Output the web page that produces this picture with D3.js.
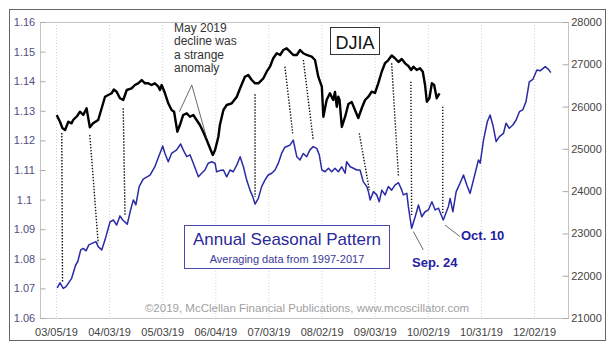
<!DOCTYPE html>
<html><head><meta charset="utf-8">
<script src="https://cdn.jsdelivr.net/npm/d3@7"></script>
<style>
html,body{margin:0;padding:0;background:#fff;}
svg{display:block;font-family:"Liberation Sans",Arial,sans-serif;}
</style></head>
<body><svg id="c" width="614" height="346"></svg>
<script>
// x axis: trading-day index from 03/05/19
const dayTicks = [0,21,42,63,84,105,126,147,168,189];
const dayLabels = ["03/05/19","04/03/19","05/03/19","06/04/19","07/03/19","08/02/19","09/03/19","10/02/19","10/31/19","12/02/19"];
const leftTicks = [1.06,1.07,1.08,1.09,1.10,1.11,1.12,1.13,1.14,1.15,1.16];
const leftTickLabels = ["1.06","1.07","1.08","1.09","1.1","1.11","1.12","1.13","1.14","1.15","1.16"];
const rightTicks = [21000,22000,23000,24000,25000,26000,27000,28000];

// Annual seasonal pattern (left axis) [day, value]
const seasonal = [
[0.5,1.0702],[1.6,1.0719],[2.9,1.0700],[4.0,1.0706],[6.2,1.0734],[7.8,1.0779],[8.6,1.0790],[9.8,1.0830],
[10.8,1.0835],[11.9,1.0827],[13.0,1.0847],[14.7,1.0854],[15.8,1.0858],[16.7,1.0841],[18.1,1.0830],[19.4,1.0864],
[21.4,1.0925],[22.7,1.0931],[24.0,1.0914],[25.3,1.0945],[26.4,1.0931],[28.2,1.0917],[29.5,1.0965],[30.6,1.0999],
[31.6,1.0982],[32.9,1.1044],[34.5,1.1069],[37.2,1.1083],[39.1,1.1111],[42.2,1.1181],[43.1,1.1156],[44.4,1.1128],
[45.7,1.1156],[47.7,1.1168],[49.3,1.1188],[50.3,1.1168],[51.7,1.1145],[53.0,1.1151],[54.3,1.1123],[56.3,1.1077],
[57.6,1.1089],[58.9,1.1100],[60.2,1.1123],[61.6,1.1128],[62.9,1.1123],[63.5,1.1094],[64.8,1.1098],[66.2,1.1100],
[67.5,1.1077],[68.8,1.1100],[70.1,1.1094],[71.5,1.1117],[72.8,1.1145],[74.1,1.1111],[75.4,1.1066],[76.7,1.1032],
[77.8,1.1010],[78.7,1.0985],[80.0,1.1004],[81.3,1.1044],[82.6,1.1066],[83.9,1.1083],[85.3,1.1089],[86.6,1.1100],
[87.9,1.1123],[89.2,1.1156],[90.5,1.1177],[91.7,1.1181],[92.5,1.1184],[93.8,1.1201],[95.2,1.1145],[96.5,1.1134],
[97.8,1.1156],[99.1,1.1145],[100.4,1.1168],[101.7,1.1179],[103.1,1.1173],[104.1,1.1151],[105.1,1.1100],[106.4,1.1094],
[107.7,1.1106],[109.0,1.1094],[110.3,1.1106],[111.6,1.1094],[113.0,1.1111],[114.3,1.1089],[114.9,1.1128],[116.3,1.1111],
[117.6,1.1106],[118.9,1.1100],[120.2,1.1100],[121.5,1.1060],[122.9,1.1044],[123.5,1.1027],[124.2,1.0999],[125.5,1.1027],
[126.8,1.1016],[127.8,1.0993],[128.8,1.1032],[130.1,1.1016],[131.4,1.1044],[132.7,1.1032],[134.0,1.1049],[135.4,1.1057],
[136.7,1.1032],[137.3,1.1016],[138.7,1.1021],[139.3,1.0976],[140.6,1.0903],[142.0,1.0942],[143.3,1.0982],[144.6,1.0942],
[145.9,1.0959],[147.2,1.0965],[148.6,1.0993],[149.9,1.0965],[151.2,1.0971],[153.1,1.0931],[155.1,1.0976],[155.8,1.1004],
[156.9,1.0959],[158.2,1.1027],[159.7,1.1055],[161.1,1.1083],[162.4,1.1049],[163.7,1.1021],[165.7,1.1089],[167.0,1.1134],
[167.7,1.1123],[169.0,1.1201],[170.5,1.1263],[171.6,1.1286],[172.7,1.1252],[174.0,1.1196],[175.3,1.1213],[176.9,1.1224],
[177.9,1.1258],[179.2,1.1241],[180.6,1.1252],[181.9,1.1269],[183.2,1.1297],[184.5,1.1303],[185.8,1.1331],[187.1,1.1398],
[188.5,1.1406],[190.1,1.1438],[191.4,1.1435],[193.4,1.1449],[194.7,1.1440],[195.6,1.1429]
];

// DJIA (right axis) [day, value]
const djia = [
[0.3,25801],[1.6,25642],[2.6,25486],[3.6,25446],[4.9,25642],[6.2,25604],[6.8,25682],[8.4,25777],[9.5,25879],
[10.8,25801],[12.1,25959],[13.4,25510],[14.7,25604],[16.7,25682],[18.1,25966],[19.4,26233],[20.7,26274],[22.0,26314],
[22.9,26404],[24.0,26352],[25.3,26196],[26.6,26155],[28.0,26392],[29.9,26432],[31.2,26510],[32.5,26550],[33.9,26628],
[35.2,26550],[36.5,26550],[37.8,26510],[39.1,26550],[40.5,26470],[41.1,26392],[41.8,26510],[43.1,26314],[44.4,26077],
[45.7,25919],[46.7,25879],[48.0,25406],[49.0,25564],[50.3,25801],[51.7,25841],[53.0,25760],[54.3,25801],[55.6,25682],
[56.9,25564],[58.2,25406],[59.6,25209],[60.9,25013],[62.0,24855],[62.9,24973],[64.2,25287],[64.8,25564],[66.2,25919],
[67.5,26037],[69.5,26077],[71.5,26233],[72.8,26432],[74.7,26706],[76.0,26747],[77.4,26628],[78.7,26550],[80.0,26550],
[82.0,26669],[83.3,26825],[84.6,26943],[85.9,27142],[87.3,27260],[88.6,27220],[89.9,27338],[91.2,27378],[92.5,27298],
[93.8,27220],[95.2,27220],[96.5,27338],[97.8,27260],[99.1,27220],[101.1,27179],[102.4,27101],[103.7,26706],[105.1,26470],
[105.7,25760],[107.0,26155],[108.3,26314],[109.6,26155],[110.3,26345],[111.0,25997],[111.6,26233],[112.1,26155],
[113.0,25517],[114.3,25760],[115.6,26061],[116.9,26108],[118.2,25919],[119.5,25730],[120.9,25966],[122.2,26155],
[123.5,26233],[124.8,26352],[126.1,26321],[127.4,26550],[128.8,26829],[130.1,27030],[131.4,27101],[132.7,27208],
[134.0,27142],[135.4,27054],[136.7,27125],[138.0,27023],[139.3,26959],[140.4,26865],[141.3,26943],[142.6,26865],
[143.9,26905],[145.0,26825],[145.9,26510],[146.6,26115],[147.6,26196],[148.6,26550],[149.5,26510],[150.5,26196],[151.6,26314]
];

// dotted links: [day on DJIA, DJIA value, day on seasonal, seasonal value]
const links = [
[2.3,25375,2.6,1.0718],[13.4,25328,16.7,1.0853],[26.6,25959,27.3,1.0948],[78.7,26290,78.7,1.1009],
[90.5,26943,93.6,1.1224],[97.8,27101,101.7,1.1201],[119.9,25368,123.9,1.1032],[132.7,27023,135.4,1.1077],
[140.3,26588,140.6,1.0948],[152.9,25997,152.9,1.0954]
];

const anomalyText = ["May 2019","decline was","a strange","anomaly"];
const legendTitle = "Annual Seasonal Pattern";
const legendSub = "Averaging data from 1997-2017";
const copyright = "\u00A92019, McClellan Financial Publications, www.mcoscillator.com";

const svg = d3.select("#c");
const L = 40, R = 568, T = 22, B = 318;
const x = d3.scaleLinear().domain([-6.3, 202.4]).range([L, R]);
const yL = d3.scaleLinear().domain([1.06, 1.16]).range([B, T]);
const yR = d3.scaleLinear().domain([21000, 28000]).range([B, T]);
const FONT = "'Liberation Sans',Arial,sans-serif";

// outer frame
svg.append("rect").attr("x",9.5).attr("y",9.5).attr("width",596).attr("height",331)
  .attr("fill","#fff").attr("stroke","#666").attr("stroke-width",1);

// gridlines
svg.append("g").selectAll("line").data(dayTicks).join("line")
  .attr("x1",d=>x(d)+0.5).attr("x2",d=>x(d)+0.5).attr("y1",T).attr("y2",B)
  .attr("stroke","#d0d0d0").attr("stroke-dasharray","1,2");

// plot frame
svg.append("rect").attr("x",L+0.5).attr("y",T+0.5).attr("width",R-L).attr("height",B-T)
  .attr("fill","none").attr("stroke","#c4c4c4");

// left axis
const gl = svg.append("g").attr("transform",`translate(${L+0.5},0)`)
  .call(d3.axisLeft(yL).tickValues(leftTicks).tickSize(-5).tickPadding(0)
    .tickFormat((d,i)=>leftTickLabels[i]));
gl.select(".domain").remove();
gl.selectAll(".tick line").attr("stroke","#aaa");
gl.selectAll(".tick text").attr("x",-16).attr("text-anchor","middle")
  .attr("fill","#505080").style("font-size","11px").style("font-family",FONT);

// right axis
const gr = svg.append("g").attr("transform",`translate(${R+0.5},0)`)
  .call(d3.axisRight(yR).tickValues(rightTicks).tickSize(-6).tickPadding(0)
    .tickFormat(d3.format("d")));
gr.select(".domain").remove();
gr.selectAll(".tick line").attr("stroke","#aaa");
gr.selectAll(".tick text").attr("x",18).attr("text-anchor","middle")
  .attr("fill","#444").style("font-size","11px").style("font-family",FONT);

// bottom axis labels
const gb = svg.append("g").attr("transform",`translate(0,${B})`)
  .call(d3.axisBottom(x).tickValues(dayTicks).tickSize(0).tickPadding(0)
    .tickFormat((d,i)=>dayLabels[i]));
gb.select(".domain").remove();
gb.selectAll(".tick text").attr("y",10).attr("dy","0.71em")
  .attr("fill","#444").style("font-size","11px").style("font-family",FONT);

// copyright
svg.append("text").attr("x",307).attr("y",312).attr("text-anchor","middle")
  .attr("fill","#a0a0a0").style("font-size","11.5px").text(copyright);

// dotted links
svg.append("g").selectAll("line").data(links).join("line")
  .attr("x1",d=>x(d[0])).attr("y1",d=>yR(d[1])).attr("x2",d=>x(d[2])).attr("y2",d=>yL(d[3]))
  .attr("stroke","#111").attr("stroke-width",1.4).attr("stroke-dasharray","1.4,1.6");

// seasonal line
svg.append("path").datum(seasonal)
  .attr("d",d3.line().x(d=>x(d[0])).y(d=>yL(d[1])))
  .attr("fill","none").attr("stroke","#2a2aa6").attr("stroke-width",1.5).attr("stroke-linejoin","round");

// DJIA line
svg.append("path").datum(djia)
  .attr("d",d3.line().x(d=>x(d[0])).y(d=>yR(d[1])))
  .attr("fill","none").attr("stroke","#000").attr("stroke-width",2.4).attr("stroke-linejoin","round");

// anomaly annotation
const at = svg.append("text").attr("fill","#333").style("font-size","12px");
anomalyText.forEach((t,i)=>at.append("tspan").attr("x",174).attr("y",32+i*13.3).text(t));
const apex = [x(53.7), yR(26510)];
[[48.8,25879],[59.6,25250]].forEach(p=>{
  svg.append("line").attr("x1",apex[0]).attr("y1",apex[1]).attr("x2",x(p[0])).attr("y2",yR(p[1]))
    .attr("stroke","#444").attr("stroke-width",0.8);
});

// DJIA label box
svg.append("rect").attr("x",330.5).attr("y",27.5).attr("width",49).attr("height",27)
  .attr("fill","#fff").attr("stroke","#333");
svg.append("text").attr("x",355).attr("y",48.5).attr("text-anchor","middle")
  .attr("fill","#111").style("font-size","18px").text("DJIA");

// legend box
svg.append("rect").attr("x",184.5).attr("y",225.5).attr("width",205).attr("height",43)
  .attr("fill","#fff").attr("stroke","#4a4ab0");
svg.append("text").attr("x",287).attr("y",245).attr("text-anchor","middle")
  .attr("fill","#2a2a9a").style("font-size","17px").text(legendTitle);
svg.append("text").attr("x",287).attr("y",263).attr("text-anchor","middle")
  .attr("fill","#3a3a9a").style("font-size","11px").text(legendSub);

// Sep. 24 / Oct. 10 callouts
const callouts = [
  {from:[141.3,1.0892], to:[145.2,1.0830], text:"Sep. 24", tx:412, ty:267},
  {from:[153.8,1.0914], to:[159.7,1.0875], text:"Oct. 10", tx:461, ty:240}
];
callouts.forEach(c=>{
  svg.append("line").attr("x1",x(c.from[0])).attr("y1",yL(c.from[1]))
    .attr("x2",x(c.to[0])).attr("y2",yL(c.to[1])).attr("stroke","#444").attr("stroke-width",0.8);
  svg.append("text").attr("x",c.tx).attr("y",c.ty).attr("fill","#2222a0")
    .style("font-size","13px").style("font-weight","bold").text(c.text);
});
</script>
</body></html>
